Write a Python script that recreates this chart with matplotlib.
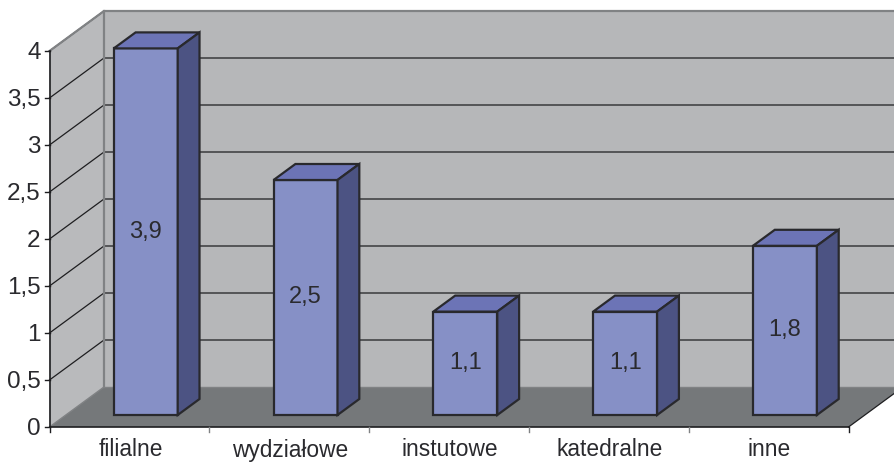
import matplotlib
matplotlib.use('Agg')
import matplotlib.pyplot as plt
from matplotlib.patches import Polygon

categories = ['filialne', 'wydziałowe', 'instutowe', 'katedralne', 'inne']
values = [3.9, 2.5, 1.1, 1.1, 1.8]
value_labels = ['3,9', '2,5', '1,1', '1,1', '1,8']
y_ticks = [0, 0.5, 1, 1.5, 2, 2.5, 3, 3.5, 4]
y_tick_labels = ['0', '0,5', '1', '1,5', '2', '2,5', '3', '3,5', '4']

plt.rcParams['font.family'] = ['Liberation Sans', 'DejaVu Sans']

W, H = 894, 462
SLOT = 159.8   # px per category
UNIT = 94.0    # px per y unit
X0, Y0 = 49.5, 427.0
# oblique offset of the back wall, in data units
DX = 54.5 / SLOT
DY = 40.0 / UNIT
BAR_W = 0.4
N = len(categories)
YMAX = max(y_ticks)

fig = plt.figure(figsize=(W / 100, H / 100), dpi=100)
ax = fig.add_axes([0, 0, 1, 1])
ax.set_xlim(-X0 / SLOT, (W - X0) / SLOT)
ax.set_ylim(-(H - Y0) / UNIT, Y0 / UNIT)
ax.axis('off')


def poly(pts, fc, ec='none', lw=0, z=1):
    ax.add_patch(Polygon(pts, closed=True, facecolor=fc, edgecolor=ec, linewidth=lw,
                         joinstyle='miter', zorder=z))


# walls and floor
poly([(DX, DY), (N + DX, DY), (N + DX, YMAX + DY), (DX, YMAX + DY)], '#b6b7b9')
poly([(0, 0), (DX, DY), (DX, YMAX + DY), (0, YMAX)], '#b9babc')
poly([(0, 0), (N, 0), (N + DX, DY), (DX, DY)], '#75787a')

# gridlines across side and back walls
for t in y_ticks[1:]:
    ax.plot([0, DX, N + DX], [t, t + DY, t + DY], color='#1e1e20', lw=0.9, zorder=2,
            solid_joinstyle='miter')

# wall borders
ax.plot([DX, DX], [DY, YMAX + DY], color='#808284', lw=1.6, zorder=2)
ax.plot([0, DX, N + DX], [YMAX, YMAX + DY, YMAX + DY], color='#808284', lw=1.6, zorder=2,
        solid_joinstyle='miter')
ax.plot([DX, N + DX], [DY, DY], color='#808284', lw=1.0, zorder=2)
ax.plot([0, DX], [0, DY], color='#808284', lw=1.0, zorder=2)
ax.plot([N, N + DX], [0, DY], color='#1e1e20', lw=0.9, zorder=2)

# bars sit between 30% and 70% of the floor depth
edge = '#29292d'
for i, v in enumerate(values):
    x0 = i + (1 - BAR_W) / 2 + 0.3 * DX
    x1 = x0 + BAR_W
    b = 0.3 * DY
    t = b + v
    dx, dy = 0.4 * DX, 0.4 * DY
    poly([(x0, b), (x1, b), (x1, t), (x0, t)], '#8690c6', edge, 1.6, 3)
    poly([(x0, t), (x1, t), (x1 + dx, t + dy), (x0 + dx, t + dy)], '#6c74b6', edge, 1.6, 3)
    poly([(x1, b), (x1 + dx, b + dy), (x1 + dx, t + dy), (x1, t)], '#4c5383', edge, 1.6, 3)
    ax.text((x0 + x1) / 2, b + v / 2, value_labels[i], ha='center', va='center',
            fontsize=17, color='#2a2a2e', zorder=4)

# axes
ax.plot([0, 0], [0, YMAX], color='#1e1e20', lw=1.2, zorder=5)
ax.plot([0, N], [0, 0], color='#1e1e20', lw=1.2, zorder=5)
for t, lab in zip(y_ticks, y_tick_labels):
    ax.plot([-5 / SLOT, 0], [t, t], color='#1e1e20', lw=1.0, zorder=5)
    ax.text(-9 / SLOT, t - 8 / UNIT, lab, ha='right', va='baseline', fontsize=17.5, color='#2a2a2e')
for i in range(N + 1):
    ax.plot([i, i], [-5 / UNIT, 0], color='#1e1e20' if i in (0, N) else '#808284', lw=1.0, zorder=5)
for i, c in enumerate(categories):
    ax.text(i + 0.5 + 1 / SLOT, -29.5 / UNIT, c, ha='center', va='baseline', fontsize=16.4, color='#2a2a2e')

fig.savefig('out.png', dpi=100)
